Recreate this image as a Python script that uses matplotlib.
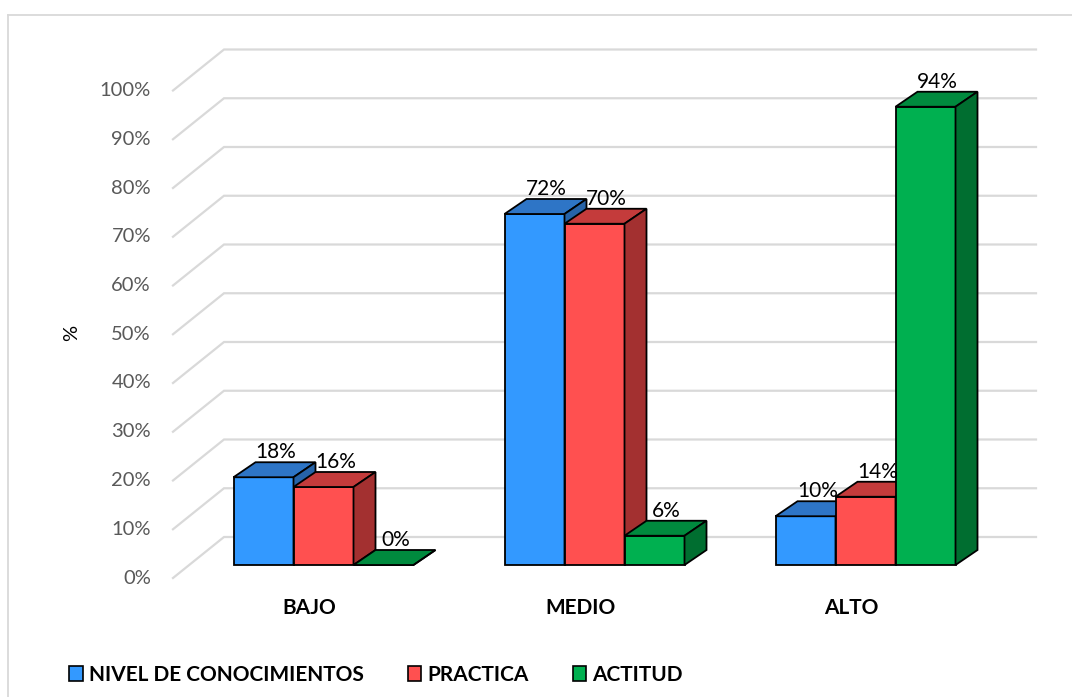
import matplotlib.pyplot as plt
import matplotlib as mpl
from matplotlib.patches import Polygon, Patch

mpl.rcParams['font.family'] = ['Lato', 'DejaVu Sans']

categories = ["BAJO", "MEDIO", "ALTO"]
series = ["NIVEL DE CONOCIMIENTOS", "PRACTICA", "ACTITUD"]
nivel = [18, 72, 10]
practica = [16, 70, 14]
actitud = [0, 6, 94]
yticks = [0, 10, 20, 30, 40, 50, 60, 70, 80, 90, 100]

# front / top / side shades per series
colors = [
    ("#3399ff", "#2e75c6", "#2663a8"),
    ("#ff5050", "#c43b3b", "#a33030"),
    ("#00b050", "#008a3e", "#006e30"),
]

W, H = 1072, 697
PX_X = 271.0       # pixels per category step
PX_Y = 4.875       # pixels per percent
X0_PX, Y0_PX = 323.5, 565.0

fig = plt.figure(figsize=(W / 100, H / 100), dpi=100)
ax = fig.add_axes([0, 0, 1, 1])
ax.set_xlim(-X0_PX / PX_X, (W - X0_PX) / PX_X)
ax.set_ylim((Y0_PX - H) / PX_Y, Y0_PX / PX_Y)
ax.axis('off')

def px_dx(p):
    return p / PX_X

def px_dy(p):
    return p / PX_Y

# outer frame (top and left only visible)
ax.plot([px_dx(8 - X0_PX), px_dx(W - X0_PX)], [px_dy(Y0_PX - 15)] * 2,
        color="#d9d9d9", lw=1.3, clip_on=False, zorder=0)
ax.plot([px_dx(8 - X0_PX)] * 2, [px_dy(Y0_PX - 15), px_dy(Y0_PX - H - 5)],
        color="#d9d9d9", lw=1.3, clip_on=False, zorder=0)

# perspective gridlines
gx_front, gx_back, gx_end = px_dx(173 - X0_PX), px_dx(224 - X0_PX), px_dx(1036 - X0_PX)
gy_front, gy_back = -px_dy(13), px_dy(28)
for t in yticks:
    ax.plot([gx_front, gx_back, gx_end], [t + gy_front, t + gy_back, t + gy_back],
            color="#d9d9d9", lw=1.6, zorder=1, solid_joinstyle='miter')
    ax.text(px_dx(151 - X0_PX), t + gy_front, f"{t}%", ha='right', va='center',
            fontsize=14.5, color="#595959")

ax.text(px_dx(72 - X0_PX), px_dy(Y0_PX - 333), "%", rotation=90, ha='center',
        va='center', fontsize=14.5, color="black")

# 3D bars
w = 60 / PX_X
ddx, ddy = px_dx(22), px_dy(15)
values = [nivel, practica, actitud]
for i, cat in enumerate(categories):
    for j, vals in enumerate(values):
        v = vals[i]
        x0 = i + (j - 1.5) * w
        x1 = x0 + w
        front_c, top_c, side_c = colors[j]
        kw = dict(edgecolor="black", lw=1.3, joinstyle='miter', zorder=3 + i * 3 + j)
        ax.add_patch(Polygon([(x0, 0), (x1, 0), (x1, v), (x0, v)], facecolor=front_c, **kw))
        ax.add_patch(Polygon([(x0, v), (x1, v), (x1 + ddx, v + ddy), (x0 + ddx, v + ddy)],
                             facecolor=top_c, **kw))
        ax.add_patch(Polygon([(x1, 0), (x1 + ddx, ddy), (x1 + ddx, v + ddy), (x1, v)],
                             facecolor=side_c, **kw))
        ax.text((x0 + x1) / 2 + px_dx(12), v + ddy + px_dy(10), f"{v}%",
                ha='center', va='center', fontsize=15, color="black", zorder=20)
    ax.text(i - px_dx(14), -px_dy(43), cat, ha='center', va='center',
            fontsize=15, fontweight='bold', color="black")

handles = [Patch(facecolor=c[0], edgecolor="black", lw=1.2) for c in colors]
fig.legend(handles, series, loc='center', bbox_to_anchor=(376 / W, 1 - 675 / H),
           ncol=3, frameon=False, handlelength=0.65, handleheight=0.75,
           handletextpad=0.3, columnspacing=2.1, prop={'weight': 'bold', 'size': 15})

fig.savefig("out.png", dpi=100)
